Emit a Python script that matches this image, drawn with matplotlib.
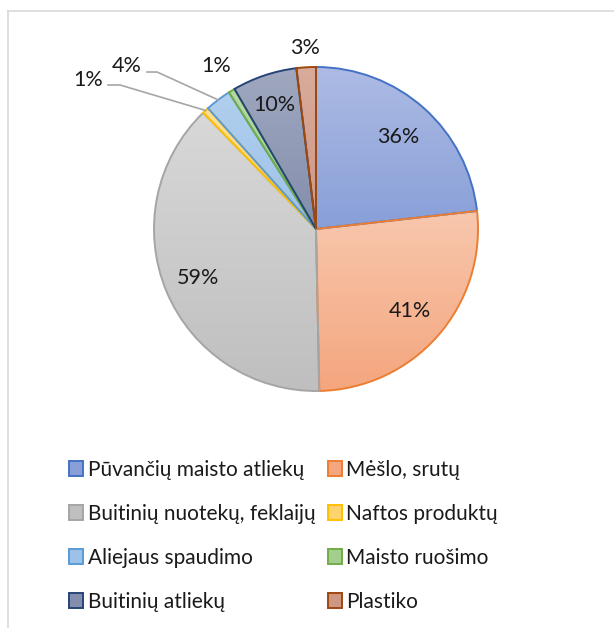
import numpy as np
import matplotlib
matplotlib.use("Agg")
import matplotlib.pyplot as plt
from matplotlib.patches import Patch
from matplotlib.lines import Line2D
from matplotlib.colors import to_rgb

plt.rcParams['font.family'] = ['Lato', 'DejaVu Sans']

# data
categories = ['Pūvančių maisto atliekų', 'Mėšlo, srutų', 'Buitinių nuotekų, feklaijų',
              'Naftos produktų', 'Aliejaus spaudimo', 'Maisto ruošimo',
              'Buitinių atliekų', 'Plastiko']
values = [36, 41, 59, 1, 4, 1, 10, 3]
fills_top = ['#adbbe4', '#f8c7ad', '#d8d8d8', '#ffe08f', '#b1cfee', '#b5d9a2', '#a0a8c0', '#d9ab9b']
fills_bot = ['#889fd8', '#f4a67e', '#bfbfbf', '#ffd36b', '#9dc2ea', '#a3cf8e', '#838eac', '#cf9684']
edges = ['#4472c4', '#ed7d31', '#a5a5a5', '#ffc000', '#5b9bd5', '#70ad47', '#264478', '#9e480e']

W, H = 614, 628
fig = plt.figure(figsize=(W / 100, H / 100), dpi=100)

# chart frame (left & top edges visible)
fig.add_artist(Line2D([8 / W, 8 / W], [0, 1 - 11 / H], color='#d9d9d9', lw=1.2))
fig.add_artist(Line2D([8 / W, 1], [1 - 11 / H, 1 - 11 / H], color='#d9d9d9', lw=1.2))

cx, cy, r = 316, 229, 162
ax = fig.add_axes([(cx - r) / W, (H - cy - r) / H, 2 * r / W, 2 * r / H])
wedges, _ = ax.pie(values, colors=fills_bot, startangle=90, counterclock=False,
                   wedgeprops=dict(linewidth=1.4))

# vertical gradient fill inside each wedge
for w, top, bot, ec in zip(wedges, fills_top, fills_bot, edges):
    verts = w.get_path().vertices
    x0, x1 = verts[:, 0].min(), verts[:, 0].max()
    y0, y1 = verts[:, 1].min(), verts[:, 1].max()
    t = np.linspace(0, 1, 64)[:, None]
    grad = (1 - t) * np.array(to_rgb(bot)) + t * np.array(to_rgb(top))
    im = ax.imshow(grad[:, None, :], extent=(x0, x1, y0, y1), origin='lower',
                   aspect='auto', interpolation='bilinear', zorder=1)
    im.set_clip_path(w)
    w.set_facecolor('none')
    w.set_edgecolor(ec)
    w.set_zorder(2)

ax.set_xlim(-1, 1)
ax.set_ylim(-1, 1)
ax.set_aspect('equal')
ax.axis('off')

# label radius per slice (None -> leader line label)
total = sum(values)
mids = []
ang = 90.0
for v in values:
    span = v / total * 360
    mids.append(ang - span / 2)
    ang -= span

FS = 15.5
label_r = [0.76, 0.77, 0.79, None, None, 1.18, 0.81, 1.12]
for v, m, lr in zip(values, mids, label_r):
    if lr is None:
        continue
    t = np.deg2rad(m)
    ax.text(lr * np.cos(t), lr * np.sin(t), f'{v}%', ha='center', va='center',
            fontsize=FS, color='#1a1a1a', clip_on=False, zorder=3)

# leader lines for the small slices
leaders = {3: ((-1.407, 0.92), (-1.284, 0.889), (-1.21, 0.889)),
           4: ((-1.17, 1.006), (-1.043, 0.969), (-0.981, 0.969))}
for i, (txt_xy, start, elbow) in leaders.items():
    t = np.deg2rad(mids[i])
    ax.plot([start[0], elbow[0], np.cos(t)], [start[1], elbow[1], np.sin(t)],
            color='#a6a6a6', lw=1.2, clip_on=False, zorder=3)
    ax.text(txt_xy[0], txt_xy[1], f'{values[i]}%', ha='center', va='center',
            fontsize=FS, color='#1a1a1a', clip_on=False, zorder=3)

# legend
handles = [Patch(facecolor=b, edgecolor=e, linewidth=1.4) for b, e in zip(fills_bot, edges)]
order = [0, 2, 4, 6, 1, 3, 5, 7]
fig.legend([handles[i] for i in order], [categories[i] for i in order],
           loc='upper left', bbox_to_anchor=(50 / W, 1 - 441 / H), ncol=2,
           frameon=False, fontsize=15, handlelength=0.7, handleheight=0.7,
           handletextpad=0.2, labelspacing=1.15, columnspacing=0.6,
           labelcolor='#1a1a1a')

fig.savefig('out.png', dpi=100)
